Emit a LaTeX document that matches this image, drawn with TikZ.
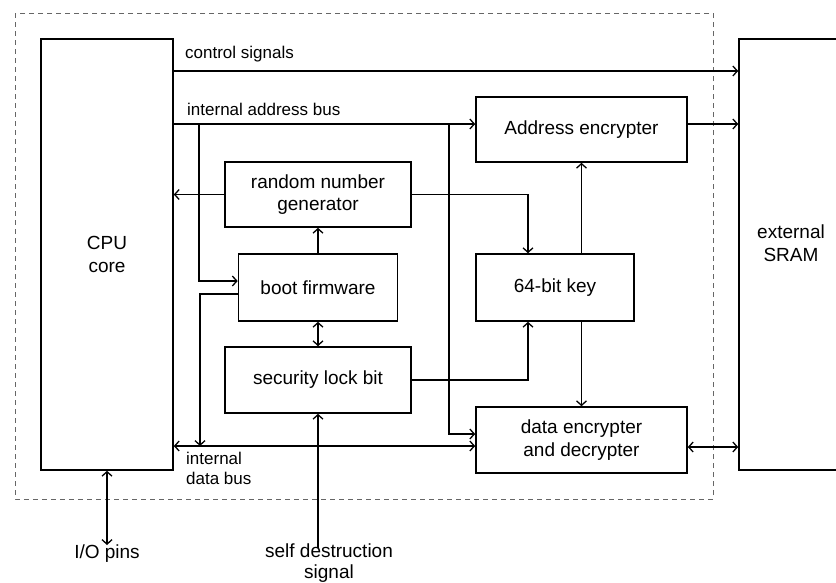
\documentclass[tikz,border=0pt]{standalone}
\usepackage{fontspec}
\setmainfont{Liberation Sans}
\usetikzlibrary{arrows.meta}
\begin{document}
\begin{tikzpicture}[x=1pt,y=-1pt,
  >={Straight Barb[length=4.5pt,width=10pt]},
  blk/.style={draw,line width=1.6pt,inner sep=0pt,align=center,font=\fontsize{19}{22.5}\selectfont},
  wire/.style={line width=1.3pt},
  lbl/.style={inner sep=0pt,font=\fontsize{17}{19.5}\selectfont,align=left},
  btxt/.style={inner sep=0pt,font=\fontsize{19}{20.5}\selectfont,align=center},
  frame/.style={draw=black!60,line width=1pt,dash pattern=on 5pt off 4pt}]
\useasboundingbox (0,0) rectangle (836,582);
\fill[white] (0,0) rectangle (836,582);
\draw[frame] (15,13) rectangle (713,499);
% blocks
\node[blk,minimum width=132pt,minimum height=431pt] (cpu) at (107,254.5) {CPU\\core};
\node[blk,minimum width=104pt,minimum height=431pt] (sram) at (791,254.5) {};
\node[btxt,font=\fontsize{19}{22.5}\selectfont] (sramtxt) at (791,243) {external\\SRAM};
\node[blk,minimum width=211pt,minimum height=65pt] (addr) at (581.5,129.5) {Address encrypter};
\node[blk,minimum width=186pt,minimum height=65pt] (rng) at (318,194.5) {random number\\generator};
\node[blk,minimum width=159pt,minimum height=67pt] (boot) at (318,287.5) {boot firmware};
\node[blk,minimum width=186pt,minimum height=66pt] (lock) at (318,380) {security lock bit};
\node[blk,minimum width=158pt,minimum height=67pt] (key) at (555,287.5) {64-bit key};
\node[blk,minimum width=211pt,minimum height=66pt] (data) at (581.5,440) {data encrypter\\and decrypter};
% labels
\node[lbl,anchor=base west] (lctl) at (185,58) {control signals};
\node[lbl,anchor=base west] (laddr) at (187,115) {internal address bus};
\node[lbl,anchor=north west] (ldata) at (186,452) {internal\\data bus};
\node[btxt,anchor=north] (lio) at (107,545) {I/O pins};
\node[btxt,anchor=north] (lsds) at (329,544) {self destruction\\signal};
% junction / free-end coordinates
\coordinate (ja) at (199,124);
\coordinate (jb) at (449,124);
\coordinate (jd) at (200,446);
\coordinate (sd) at (318,548);
\coordinate (io) at (107,545);
% wires
\draw[wire,->] (cpu.east |- 0,71) -- (sram.west |- 0,71);
\draw[wire,->] (cpu.east |- 0,124) -- (addr.west |- 0,124);
\draw[wire,->] (addr.east |- 0,124) -- (sram.west |- 0,124);
\draw[wire,->] (rng.west) -- (cpu.east |- rng.west);
\draw[wire,->] (rng.east) -| (key.north -| 528,0);
\draw[wire,->] (key.north -| addr.south) -- (addr.south);
\draw[wire,->] (key.south -| data.north) -- (data.north);
\draw[wire,->] (lock.east) -| (key.south -| 528,0);
\draw[wire,->] (boot.north) -- (rng.south);
\draw[wire,<->] (boot.south) -- (lock.north);
\draw[wire,->] (ja) |- (boot.west |- 0,281);
\draw[wire,->] (boot.west |- 0,294) -| (jd);
\draw[wire,<->] (cpu.east |- 0,446) -- (data.west |- 0,446);
\draw[wire,->] (jb) |- (data.west |- 0,434);
\draw[wire,<->] (data.east |- 0,447) -- (sram.west |- 0,447);
\draw[wire,->] (sd) -- (lock.south);
\draw[wire,<->] (cpu.south) -- (io);
\end{tikzpicture}
\end{document}
